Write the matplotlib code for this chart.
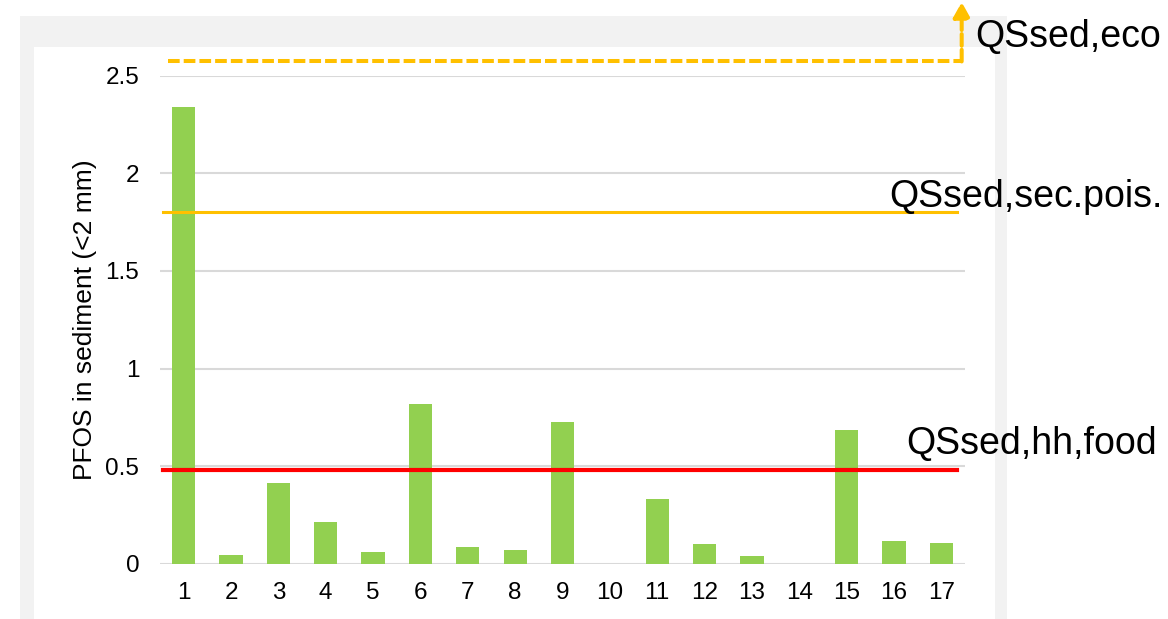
import matplotlib
matplotlib.use("Agg")
import matplotlib.pyplot as plt
from matplotlib.patches import Rectangle

plt.rcParams['font.family'] = ['Liberation Sans', 'DejaVu Sans']

# Data
sites = [str(i) for i in range(1, 18)]
pfos = [2.34, 0.045, 0.415, 0.214, 0.06, 0.818, 0.085, 0.07, 0.726, 0.0,
        0.33, 0.10, 0.04, 0.0, 0.685, 0.116, 0.105]
y_ticks = [0, 0.5, 1, 1.5, 2, 2.5]
y_tick_labels = ["0", "0.5", "1", "1.5", "2", "2.5"]

# Quality standards (eco is off-scale, drawn just above the top)
qs_eco = 2.573
qs_sec_pois = 1.8
qs_hh_food = 0.48

W, H = 1168, 619
fig = plt.figure(figsize=(W / 100, H / 100), dpi=100)

# grey frame behind the chart
fig.patches.append(Rectangle((20 / W, 0), 987 / W, 1 - 16 / H, transform=fig.transFigure,
                             facecolor="#f2f2f2", edgecolor="none", zorder=-3))
fig.patches.append(Rectangle((34 / W, 0), 961 / W, 1 - 47 / H, transform=fig.transFigure,
                             facecolor="white", edgecolor="none", zorder=-2))

ax = fig.add_axes([160 / W, 1 - 563.7 / H, 805 / W, (563.7 - 75.7) / H])
ax.patch.set_alpha(0)

x = list(range(len(sites)))
ax.bar(x, pfos, width=0.49, color="#92d050", zorder=3)

ax.set_xlim(-0.5, 16.5)
ax.set_ylim(0, 2.5)
ax.set_yticks(y_ticks)
ax.set_yticklabels(y_tick_labels)
ax.set_xticks(x)
ax.set_xticklabels(sites)
ax.tick_params(axis="both", length=0, labelsize=17.5)
ax.tick_params(axis="y", pad=15)
ax.tick_params(axis="x", pad=13.5)
ax.grid(axis="y", color="#d9d9d9", linewidth=1.5, zorder=1)
for s in ax.spines.values():
    s.set_visible(False)
ax.axhline(0, color="#d9d9d9", linewidth=2, zorder=2)

ax.set_ylabel("PFOS in sediment (<2 mm)", fontsize=19)
ax.yaxis.set_label_coords(-0.078, 0.5)

# threshold lines
ax.plot([-0.44, 16.33], [qs_hh_food, qs_hh_food], color="#ff0000", linewidth=3,
        zorder=4, clip_on=False)
ax.plot([-0.44, 16.33], [qs_sec_pois, qs_sec_pois], color="#ffc000", linewidth=2.2,
        zorder=4, clip_on=False)
ax.plot([-0.33, 16.43], [qs_eco, qs_eco], color="#ffc000", linewidth=2.9,
        linestyle=(0, (2.9, 1.0)), zorder=4, clip_on=False)
ax.annotate("", xy=(16.43, 2.877), xytext=(16.43, qs_eco),
            arrowprops=dict(arrowstyle="-|>,head_width=0.5,head_length=0.9",
                            color="#ffc000", lw=2.9, linestyle=(0, (2.9, 1.0)),
                            shrinkA=0, shrinkB=0),
            annotation_clip=False, zorder=4)

fig.text(975 / W, 1 - 47 / H, "QSsed,eco", fontsize=27, va="baseline", ha="left")
fig.text(889 / W, 1 - 207 / H, "QSsed,sec.pois.", fontsize=27, va="baseline", ha="left")
fig.text(906 / W, 1 - 454 / H, "QSsed,hh,food", fontsize=27, va="baseline", ha="left")

fig.savefig("out.png", dpi=100)
